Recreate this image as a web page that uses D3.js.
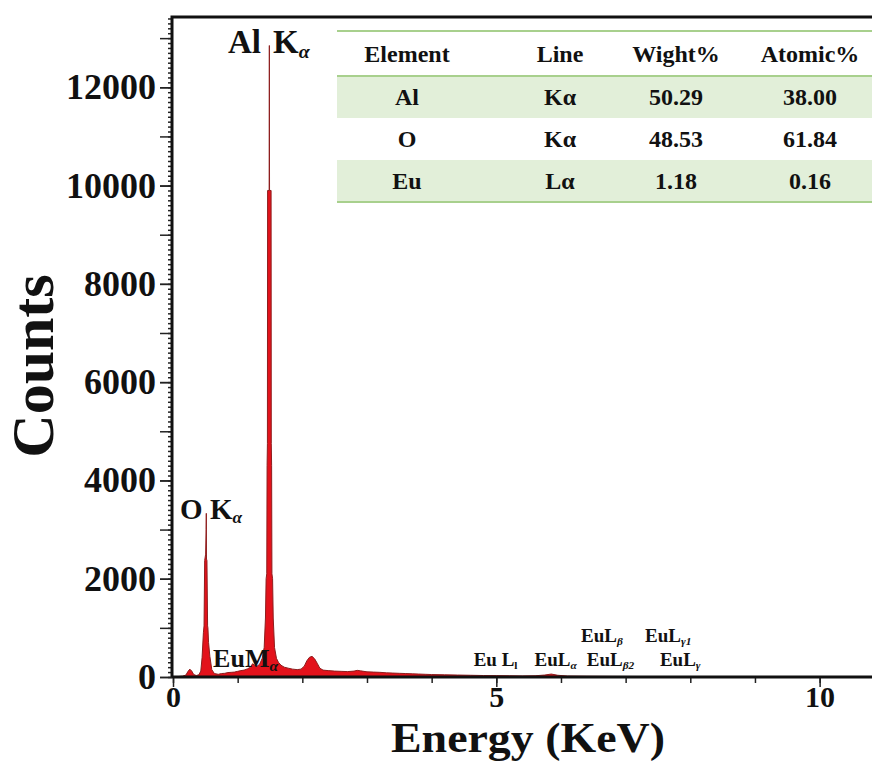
<!DOCTYPE html>
<html>
<head>
<meta charset="utf-8">
<script src="https://cdn.jsdelivr.net/npm/d3@7"></script>
<style>
  body { margin: 0; background: #fff; }
  svg { display: block; }
  text { font-family: "Liberation Serif", "Times New Roman", serif; font-weight: bold; fill: #111; }
</style>
</head>
<body>
<svg id="chart" width="872" height="761"></svg>
<script>
// EDS spectrum (keV, counts)
const energy = [0.00, 0.05, 0.10, 0.15, 0.20, 0.23, 0.26, 0.29, 0.32, 0.36, 0.40, 0.43, 0.45,
  0.47, 0.48, 0.49, 0.505, 0.512, 0.515, 0.518, 0.525, 0.535, 0.54, 0.55, 0.57, 0.60, 0.64,
  0.70, 0.75, 0.80, 0.85, 0.90, 0.95, 1.00, 1.05, 1.10, 1.15, 1.20, 1.23, 1.26, 1.30, 1.34,
  1.38, 1.41, 1.43, 1.44, 1.45, 1.455, 1.46, 1.463, 1.487, 1.49, 1.493, 1.517, 1.52, 1.525,
  1.53, 1.54, 1.55, 1.57, 1.60, 1.63, 1.67, 1.72, 1.78, 1.85, 1.92, 1.98, 2.03, 2.07, 2.11,
  2.15, 2.19, 2.23, 2.27, 2.32, 2.40, 2.50, 2.60, 2.70, 2.80, 2.85, 2.90, 3.00, 3.10, 3.20,
  3.30, 3.40, 3.50, 3.60, 3.70, 3.80, 3.90, 4.00, 4.20, 4.40, 4.60, 4.80, 5.00, 5.20, 5.40,
  5.60, 5.75, 5.85, 5.95, 6.10, 6.40, 6.80, 7.20, 7.60, 8.00, 8.50, 9.00, 9.50, 10.00, 10.50, 10.85];
const counts = [0, 5, 12, 18, 40, 110, 160, 120, 50, 30, 45, 120, 400,
  900, 1040, 2370, 2500, 3000, 3330, 2400, 2370, 1040, 1000, 700, 420, 150, 70,
  55, 70, 75, 90, 95, 100, 115, 130, 140, 165, 200, 270, 240, 220, 260,
  380, 600, 1200, 2000, 2100, 4300, 4750, 9900, 9900, 12850, 9900, 9900, 4750, 4300,
  2100, 2000, 1200, 600, 380, 300, 240, 200, 180, 160, 150, 160, 220, 330, 400,
  420, 370, 280, 180, 140, 130, 120, 115, 110, 120, 135, 125, 105, 100, 95,
  85, 80, 75, 70, 65, 60, 55, 50, 45, 40, 35, 30, 28, 25, 22,
  25, 40, 60, 35, 20, 15, 12, 10, 8, 8, 6, 5, 5, 4, 4, 3];

const yTicks = [0, 2000, 4000, 6000, 8000, 10000, 12000];
const xTicks = [0, 5, 10];

// peak annotations, anchored in data units
const labelText = ["Al", "O K", "EuM", "Eu L", "EuL", "EuL", "EuL", "EuL", "EuL"];
const labelSub = ["α", "α", "α", "l", "α", "β2", "γ", "β", "γ1"];
const labelEnergy = [0.85, 0.11, 0.62, 4.65, 5.59, 6.40, 7.53, 6.31, 7.30];
const labelCounts = [12700, 3220, 205, 225, 225, 225, 225, 715, 715];

// composition table
const tableHead = ["Element", "Line", "Wight%", "Atomic%"];
const tableElement = ["Al", "O", "Eu"];
const tableLine = ["Kα", "Kα", "Lα"];
const tableWeight = ["50.29", "48.53", "1.18"];
const tableAtomic = ["38.00", "61.84", "0.16"];

const svg = d3.select("#chart");

const x = d3.scaleLinear().domain([0, 10.81]).range([173, 872]);
const y = d3.scaleLinear().domain([0, 13430]).range([677, 17]);

// spectrum
const spec = energy.map((e, i) => ({ e: e, c: counts[i] }));
svg.append("path")
  .datum(spec)
  .attr("fill", "#e3121b")
  .attr("stroke", "#8e1d1d")
  .attr("stroke-width", 1)
  .attr("stroke-linejoin", "round")
  .attr("d", d3.area().x(d => x(d.e)).y0(y(0)).y1(d => y(d.c)));

// y axis ticks: minor every 100, medium every 1000, labelled every 2000
svg.append("g").attr("transform", "translate(172,0)")
  .call(d3.axisLeft(y).tickValues(d3.range(0, 13401, 100)).tickSize(4).tickFormat(""))
  .call(g => g.select(".domain").remove());
svg.append("g").attr("transform", "translate(172,0)")
  .call(d3.axisLeft(y).tickValues(d3.range(0, 13401, 1000)).tickSize(12).tickFormat(""))
  .call(g => g.select(".domain").remove());
svg.append("g").attr("transform", "translate(172,0)")
  .call(d3.axisLeft(y).tickValues(yTicks).tickSize(12).tickPadding(4).tickFormat(d3.format("d")))
  .call(g => g.select(".domain").remove())
  .call(g => g.selectAll("text").style("font-size", "36px").attr("fill", "#111"));

// x axis ticks
svg.append("g").attr("transform", "translate(0,677)")
  .call(d3.axisBottom(x).tickValues(d3.range(0, 11, 1)).tickSize(6).tickFormat(""))
  .call(g => g.select(".domain").remove());
svg.append("g").attr("transform", "translate(0,677)")
  .call(d3.axisBottom(x).tickValues(xTicks).tickSize(10).tickPadding(-1).tickFormat(d3.format("d")))
  .call(g => g.select(".domain").remove())
  .call(g => g.selectAll("text").style("font-size", "30px").attr("fill", "#111"));
svg.selectAll(".tick line").attr("stroke", "#222").attr("stroke-width", 1.5);

// frame (left, top, bottom)
svg.append("path")
  .attr("d", `M${x(0) - 1},${y(0)}V${y.range()[1]}H872M${x(0) - 1},${y(0)}H872`)
  .attr("fill", "none").attr("stroke", "#111").attr("stroke-width", 3);

// axis titles
svg.append("text")
  .attr("transform", "translate(53,366) rotate(-90)")
  .attr("text-anchor", "middle")
  .style("font-size", "60px")
  .text("Counts");
svg.append("text")
  .attr("x", 528).attr("y", 751.5)
  .attr("text-anchor", "middle")
  .attr("textLength", 274)
  .attr("lengthAdjust", "spacingAndGlyphs")
  .style("font-size", "42px")
  .text("Energy (KeV)");

// peak labels
const labelSize = i => i === 0 ? 33 : i === 1 ? 29 : i === 2 ? 26 : 19;
labelText.forEach((t, i) => {
  const s = labelSize(i);
  const lab = svg.append("text")
    .attr("x", x(labelEnergy[i]))
    .attr("y", y(labelCounts[i]))
    .style("font-size", s + "px");
  lab.append("tspan").text(t);
  if (i === 0) lab.append("tspan").attr("dx", 12).text("K");
  lab.append("tspan")
    .attr("dy", s * 0.15)
    .style("font-size", (s * 0.6) + "px")
    .style("font-style", labelSub[i] === "l" ? "normal" : "italic")
    .text(labelSub[i]);
});

// table
const tbl = svg.append("g");
const colX = [407, 560, 676, 810];
const rowTop = [76, 118, 160];
const rowH = 42;
rowTop.forEach((r, i) => {
  if (i !== 1) tbl.append("rect").attr("x", 337).attr("y", r).attr("width", 535).attr("height", rowH).attr("fill", "#e2efd9");
});
[31, 76, 202].forEach(ly => {
  tbl.append("line").attr("x1", 337).attr("x2", 872).attr("y1", ly).attr("y2", ly)
    .attr("stroke", "#a8d08d").attr("stroke-width", 2);
});
tableHead.forEach((h, j) => {
  tbl.append("text").attr("x", colX[j]).attr("y", 62).attr("text-anchor", "middle")
    .style("font-size", "24px").text(h);
});
const rows = tableElement.map((el, i) => [el, tableLine[i], tableWeight[i], tableAtomic[i]]);
rows.forEach((row, i) => {
  row.forEach((v, j) => {
    tbl.append("text").attr("x", colX[j]).attr("y", rowTop[i] + 29).attr("text-anchor", "middle")
      .style("font-size", "24px").text(v);
  });
});
</script>
</body>
</html>
